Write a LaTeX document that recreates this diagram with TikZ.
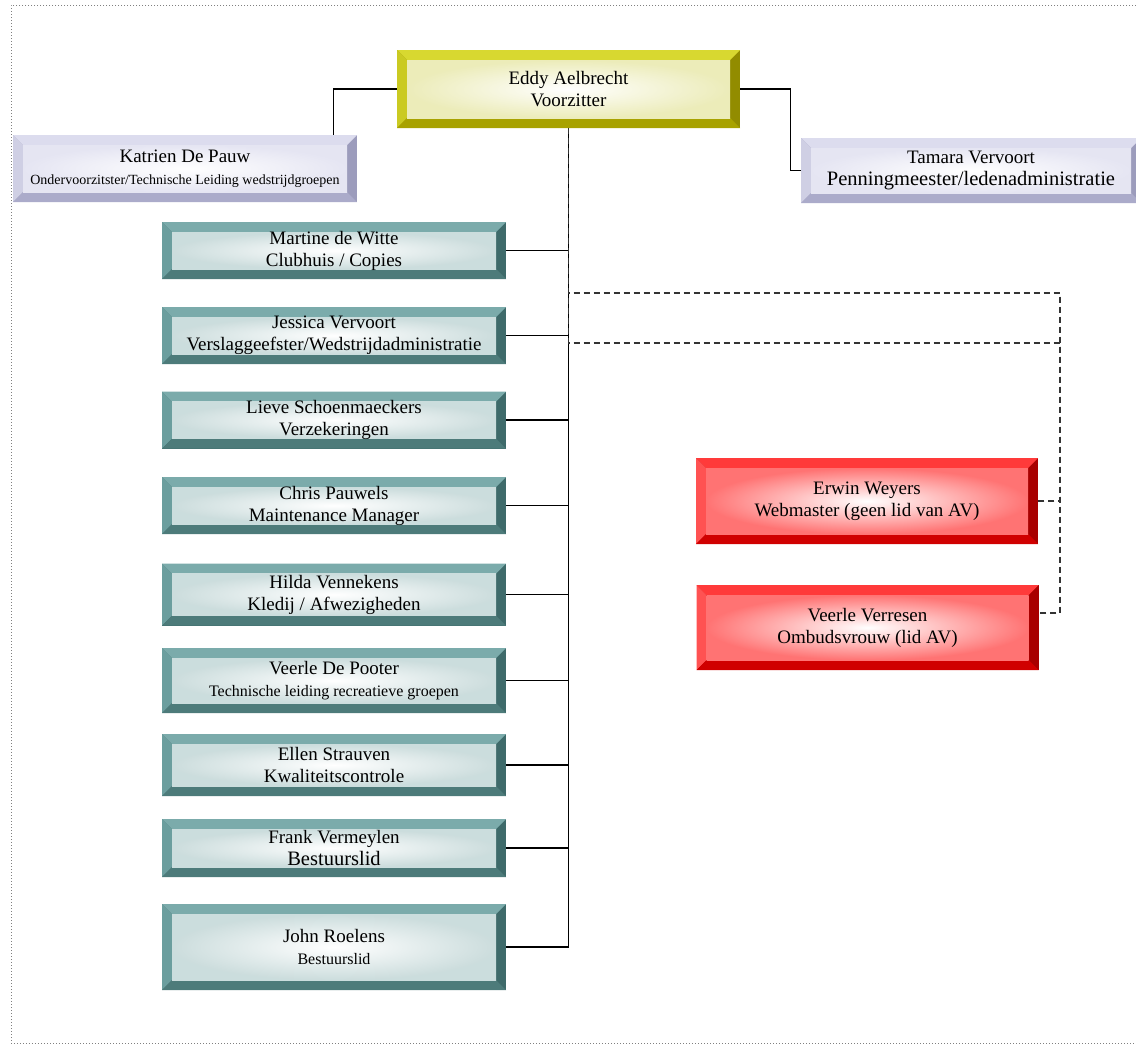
\documentclass[tikz,border=0pt]{standalone}
\usepackage{fontspec}
\setmainfont{Liberation Serif}
\usetikzlibrary{calc}

\definecolor{yeltop}{HTML}{D8D830}
\definecolor{yelleft}{HTML}{CACA22}
\definecolor{yelbot}{HTML}{A8A200}
\definecolor{yelright}{HTML}{928C00}
\definecolor{yelface}{HTML}{DCDC80}
\definecolor{liltop}{HTML}{DCDCEE}
\definecolor{lilleft}{HTML}{CFCFE4}
\definecolor{lilbot}{HTML}{ABABCA}
\definecolor{lilright}{HTML}{9C9CBC}
\definecolor{lilface}{HTML}{D4D4EA}
\definecolor{tealtop}{HTML}{7BABAB}
\definecolor{tealleft}{HTML}{6B9E9E}
\definecolor{tealbot}{HTML}{4D7B7A}
\definecolor{tealright}{HTML}{3E6A6A}
\definecolor{tealface}{HTML}{98BABA}
\definecolor{redtop}{HTML}{FF3A3A}
\definecolor{redleft}{HTML}{FF5252}
\definecolor{redbot}{HTML}{D00000}
\definecolor{redright}{HTML}{A80000}
\definecolor{redface}{HTML}{FF5050}

\newcommand{\bevw}{10pt}
\newcommand{\subl}[1]{{\fontsize{14}{17}\selectfont #1}}
\newcommand{\subm}[1]{{\fontsize{16}{19}\selectfont #1}}
\newcommand{\subg}[1]{{\fontsize{20.5}{23}\selectfont #1}}

\tikzset{
  bevel/.style n args={6}{fill=#4, inner sep=0pt, align=center,
    font=\fontsize{19}{22}\selectfont,
    path picture={
      \coordinate (sw) at (path picture bounding box.south west);
      \coordinate (ne) at (path picture bounding box.north east);
      \fill[#1] (ne) -- (ne -| sw) -- ($(ne -| sw)+(\bevw,-\bevw)$) -- ($(ne)+(-\bevw,-\bevw)$) -- cycle;
      \fill[#2] (ne -| sw) -- (sw) -- ($(sw)+(\bevw,\bevw)$) -- ($(ne -| sw)+(\bevw,-\bevw)$) -- cycle;
      \fill[#3] (sw) -- (sw -| ne) -- ($(sw -| ne)+(-\bevw,\bevw)$) -- ($(sw)+(\bevw,\bevw)$) -- cycle;
      \shade[inner color=white, outer color=#5!#6] ($(sw)+(\bevw,\bevw)$) rectangle ($(ne)+(-\bevw,-\bevw)$);
    }},
  yelbox/.style={bevel={yeltop}{yelleft}{yelbot}{yelright}{yelface}{55}},
  lilbox/.style={bevel={liltop}{lilleft}{lilbot}{lilright}{lilface}{60}},
  tealbox/.style={bevel={tealtop}{tealleft}{tealbot}{tealright}{tealface}{50}, minimum width=344pt},
  redbox/.style={bevel={redtop}{redleft}{redbot}{redright}{redface}{80}, minimum width=342pt},
  link/.style={line width=1.2pt, black},
  aside/.style={line width=1.2pt, black!80, dash pattern=on 6pt off 4pt}
}

\begin{document}
\begin{tikzpicture}[x=1pt, y=-1pt]
  \useasboundingbox (0,0) rectangle (1136,1047);
  \draw[gray, dotted, line width=1pt] (1136,5) -- (11,5) -- (11,1043) -- (1136,1043);

  \node[yelbox, minimum width=343pt, minimum height=78pt] (eddy) at (568.5,89) {Eddy Aelbrecht\\Voorzitter};
  \node[lilbox, minimum width=344pt, minimum height=67pt] (katrien) at (185,168.5) {Katrien De Pauw\\\subl{Ondervoorzitster/Technische Leiding wedstrijdgroepen}};
  \node[lilbox, minimum width=340pt, minimum height=65pt] (tamara) at (971,170.5) {Tamara Vervoort\\\subg{Penningmeester/ledenadministratie}};

  \node[tealbox, minimum height=57pt] (martine) at (334,250.5) {Martine de Witte\\Clubhuis / Copies};
  \node[tealbox, minimum height=57pt] (jessica) at (334,335.5) {Jessica Vervoort\\Verslaggeefster/Wedstrijdadministratie};
  \node[tealbox, minimum height=57pt] (lieve) at (334,420) {Lieve Schoenmaeckers\\Verzekeringen};
  \node[tealbox, minimum height=57pt] (chris) at (334,505.5) {Chris Pauwels\\Maintenance Manager};
  \node[tealbox, minimum height=62pt] (hilda) at (334,594.5) {Hilda Vennekens\\Kledij / Afwezigheden};
  \node[tealbox, minimum height=65pt] (pooter) at (334,680.5) {Veerle De Pooter\\\subm{Technische leiding recreatieve groepen}};
  \node[tealbox, minimum height=62pt] (ellen) at (334,765) {Ellen Strauven\\Kwaliteitscontrole};
  \node[tealbox, minimum height=58pt] (frank) at (334,848) {Frank Vermeylen\\\subg{Bestuurslid}};
  \node[tealbox, minimum height=86pt] (john) at (334,947) {John Roelens\\\subm{Bestuurslid}};

  \node[redbox, minimum height=86pt] (erwin) at (867,501) {Erwin Weyers\\Webmaster (geen lid van AV)};
  \node[redbox, minimum height=85pt] (verresen) at (867.5,627.5) {Veerle Verresen\\Ombudsvrouw (lid AV)};

  \begin{scope}[link]
    \draw (eddy.west) -| ($(katrien.north east)+(-24pt,0pt)$);
    \draw (eddy.east) -- ++(50,0) |- (tamara.west);
    \draw (eddy.south) |- (john.east);
    \draw (martine.east) to (martine.east -| eddy.south);
    \draw (jessica.east) to (jessica.east -| eddy.south);
    \draw (lieve.east) to (lieve.east -| eddy.south);
    \draw (chris.east) to (chris.east -| eddy.south);
    \draw (hilda.east) to (hilda.east -| eddy.south);
    \draw (pooter.east) to (pooter.east -| eddy.south);
    \draw (ellen.east) to (ellen.east -| eddy.south);
    \draw (frank.east) to (frank.east -| eddy.south);
  \end{scope}
  \begin{scope}[aside]
    \draw (eddy.south) |- (1060,293) |- ([yshift=14.5pt]verresen.east);
    \draw (eddy.south) |- (1060,343) |- (erwin.east);
  \end{scope}
\end{tikzpicture}
\end{document}
